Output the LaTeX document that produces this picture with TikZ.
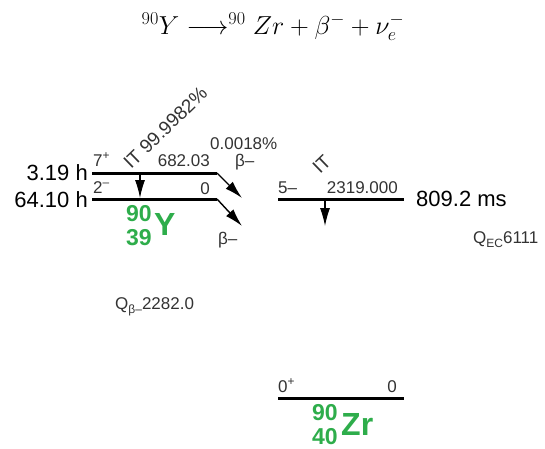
\RequirePackage{fix-cm}
\documentclass[tikz,border=0pt]{standalone}
\usepackage{fontspec}
\setsansfont{Liberation Sans}
\usetikzlibrary{arrows.meta}
\definecolor{NuclideGreen}{HTML}{2EAD4B}
\definecolor{LabelGray}{HTML}{333333}

\begin{document}
\begin{tikzpicture}[x=1pt,y=-1pt,
  every node/.style={font=\sffamily, inner sep=0pt},
  level/.style={line width=3pt},
  decay/.style={line width=1.4pt, -{Latex[length=18pt,width=10pt]}},
  small/.style={font=\sffamily\fontsize{17}{19}\selectfont, text=LabelGray},
  big/.style={font=\sffamily\fontsize{22}{25}\selectfont},
  mass/.style={font=\sffamily\bfseries\fontsize{23}{24}\selectfont, text=NuclideGreen},
  elem/.style={font=\sffamily\bfseries\fontsize{32}{34}\selectfont, text=NuclideGreen}]
  \useasboundingbox (0,0) rectangle (545,448);
  \node (eqn) at (273,27) {\fontsize{26}{30}\selectfont $^{90}Y \longrightarrow ^{90} Zr + \beta^- + \nu_e^-$};
  \coordinate (ymL) at (92,173);
  \coordinate (ymR) at (217,173);
  \coordinate (ygL) at (92,199);
  \coordinate (ygR) at (217,199);
  \coordinate (ymB) at (242,198);
  \coordinate (ygB) at (242,226);
  \coordinate (yitA) at (140,173);
  \coordinate (yitB) at (140,198);
  \draw[level] (ymL) -- (ymR);
  \draw[level] (ygL) -- (ygR);
  \draw[decay] (ymR) -- (ymB);
  \draw[decay] (ygR) -- (ygB);
  \draw[decay, line width=1.1pt] (yitA) -- (yitB);
  \node[big, anchor=base east] (ymHalf) at (88,180) {3.19 h};
  \node[big, anchor=base east] (ygHalf) at (88,207) {64.10 h};
  \node[small, anchor=base west] (ymSpin) at (93,166) {7\textsuperscript{+}};
  \node[small, anchor=base east] (ymEn) at (210,166) {682.03};
  \node[small, anchor=base west] (ygSpin) at (93,193) {2\textsuperscript{–}};
  \node[small, anchor=base east] (ygEn) at (210,194) {0};
  \node[small, anchor=base west, rotate=44, font=\sffamily\fontsize{19}{21}\selectfont] (yitLbl) at (131,170) {IT 99.9982\%};
  \node[small, anchor=base west] (ymBr) at (210,149) {0.0018\%};
  \node[small, anchor=base west] (ymBeta) at (235,166) {β–};
  \node[small, anchor=base west] (ygBeta) at (218,244) {β–};
  \node[mass, anchor=base west] (yA) at (126,221) {90};
  \node[mass, anchor=base west] (yZ) at (126,245) {39};
  \node[elem, anchor=base west] (ySym) at (154,235) {Y};
  \node[small, anchor=base west] (yQ) at (115,309) {Q\raisebox{-4pt}{\fontsize{12}{12}\selectfont β–}2282.0};
  \coordinate (zmL) at (278,199);
  \coordinate (zmR) at (404,199);
  \coordinate (zitA) at (325,199);
  \coordinate (zitB) at (325,226);
  \draw[level] (zmL) -- (zmR);
  \draw[decay, line width=1.1pt] (zitA) -- (zitB);
  \node[small, anchor=base west] (zmSpin) at (278,193) {5–};
  \node[small, anchor=base east] (zmEn) at (398,193) {2319.000};
  \node[small, anchor=base west, rotate=44, font=\sffamily\fontsize{19}{21}\selectfont] (zitLbl) at (320,175) {IT};
  \node[big, anchor=base west] (zmHalf) at (416,206) {809.2 ms};
  \node[small, anchor=base west] (zQ) at (473,243) {Q\raisebox{-4pt}{\fontsize{12}{12}\selectfont EC}6111};
  \coordinate (zgL) at (278,398);
  \coordinate (zgR) at (404,398);
  \draw[level] (zgL) -- (zgR);
  \node[small, anchor=base west] (zgSpin) at (278,392) {0\textsuperscript{+}};
  \node[small, anchor=base east] (zgEn) at (397,392) {0};
  \node[mass, anchor=base west] (zA) at (312,420) {90};
  \node[mass, anchor=base west] (zZ) at (312,444) {40};
  \node[elem, anchor=base west] (zSym) at (341,435) {Zr};
\end{tikzpicture}
\end{document}
